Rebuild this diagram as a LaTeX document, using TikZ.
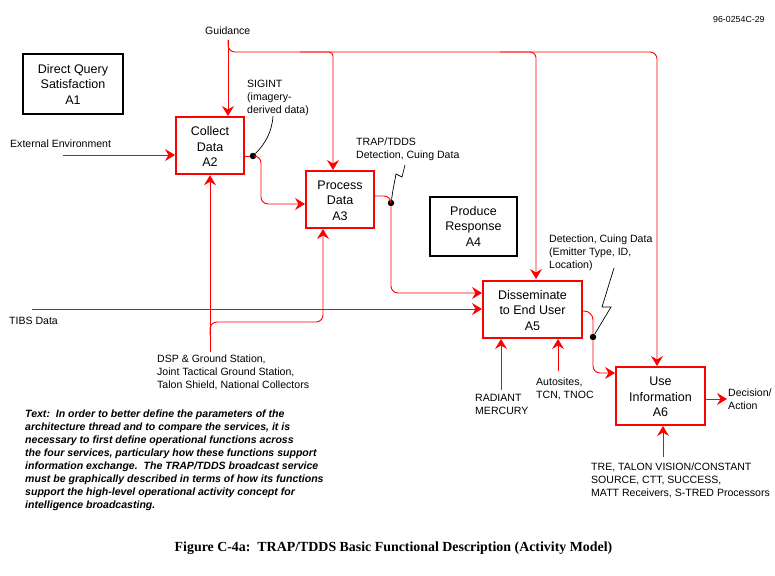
\documentclass[tikz,border=0pt]{standalone}
\usepackage{fontspec}
\setmainfont{Liberation Sans}
\newfontfamily\capfont{Liberation Serif}
\usetikzlibrary{arrows.meta}
\tikzset{
  x=1pt,y=-1pt,
  rbox/.style={draw=red,line width=2pt,minimum width=#1,minimum height=57.5pt,inner sep=0pt,align=center,font=\fontsize{12.5}{15.5}\selectfont,text=black},
  kbox/.style={draw=black,line width=2pt,minimum width=#1,minimum height=59pt,inner sep=0pt,align=center,font=\fontsize{12.5}{15.5}\selectfont,text=black},
  flow/.style={draw=red,line width=0.9pt,rounded corners=7pt,-{Stealth[length=10pt,width=12pt,inset=3.5pt]}},
  plainflow/.style={draw=red,line width=0.9pt,rounded corners=7pt},
  lbl/.style={inner sep=0pt,anchor=north west,align=left,font=\fontsize{10.55}{13}\selectfont,text=black},
  jolt/.style={draw=black,line width=0.7pt},
  dot/.style={circle,fill=black,inner sep=0pt,minimum size=6.5pt},
}
\begin{document}
\begin{tikzpicture}
\useasboundingbox (0,0) rectangle (775,575);
\node[kbox=100pt] (a1) at (73,84) {Direct Query\\Satisfaction\\A1};
\node[rbox=68pt] (a2) at (210,145.5) {\rule{0pt}{11pt}Collect\\Data\\A2};
\node[rbox=68pt] (a3) at (340,199.5) {\rule{0pt}{11pt}Process\\Data\\A3};
\node[kbox=87pt] (a4) at (473.5,226) {Produce\\Response\\A4};
\node[rbox=99pt] (a5) at (532.5,309.5) {\rule{0pt}{11pt}Disseminate\\to End User\\A5};
\node[rbox=89pt] (a6) at (660.5,396) {\rule{0pt}{11pt}Use\\Information\\A6};

\node[lbl,font=\fontsize{8.8}{10}\selectfont] (code) at (713,16) {96-0254C-29};
\node[lbl] (guid) at (205,26.5) {Guidance};
\node[lbl] (ext) at (10,139.5) {External Environment};
\node[lbl] (tibs) at (9,316.5) {TIBS Data};
\node[lbl] (sig) at (247,79.5) {SIGINT\\(imagery-\\derived data)};
\node[lbl] (trap) at (356,138) {TRAP/TDDS\\Detection, Cuing Data};
\node[lbl] (det) at (549,234.5) {Detection, Cuing Data\\(Emitter Type, ID,\\Location)};
\node[lbl] (dsp) at (157,355) {DSP \& Ground Station,\\Joint Tactical Ground Station,\\Talon Shield, National Collectors};
\node[lbl] (rad) at (475,394.5) {RADIANT\\MERCURY};
\node[lbl] (auto) at (536,377.5) {Autosites,\\TCN, TNOC};
\node[lbl] (dec) at (728,388.5) {Decision/\\Action};
\node[lbl] (tre) at (591,463) {TRE, TALON VISION/CONSTANT\\SOURCE, CTT, SUCCESS,\\MATT Receivers, S-TRED Processors};
\node[lbl,font=\fontsize{10.55}{12.9}\selectfont\bfseries\itshape] (para) at (25,410) {Text:~~In order to better define the parameters of the\\architecture thread and to compare the services, it is\\necessary to first define operational functions across\\the four services, particulary how these functions support\\information exchange.~~The TRAP/TDDS broadcast service\\must be graphically described in terms of how its functions\\support the high-level operational activity concept for\\intelligence broadcasting.};
\node[inner sep=0pt,font=\capfont\bfseries\fontsize{13.9}{16}\selectfont] (cap) at (393.5,548.5) {Figure C-4a:~~TRAP/TDDS Basic Functional Description (Activity Model)};

\coordinate (gtop) at (228,40);
\coordinate (gend) at (657,52);
\coordinate (extstart) at (63,155);
\coordinate (tibsstart) at (32,309);
\coordinate (dspstart) at (210,352);
\coordinate (autoS) at (558,371);
\coordinate (radS) at (501,390);
\coordinate (treS) at (663,457);
\coordinate (decE) at (727,399);

\draw[flow] (gtop) -- (228,116);
\draw[flow] (gtop) -- (228,52) -- (gend) -- (657,366);
\draw[flow,rounded corners=4pt] (300,52) -- (333,52) -- (333,170);
\draw[flow,rounded corners=6pt] (500,52) -- (536,52) -- (536,279);
\draw[flow] (extstart) -- (a2.west |- extstart);
\draw[flow] (tibsstart) -- (a5.west |- tibsstart);
\draw[flow] (dspstart) -- (a2.south);
\draw[flow] (210,335) -- (210,322) -- (323,322) -- (323,229);

\node[dot] (d2) at (253,156) {};
\node[dot] (d3) at (391,203) {};
\node[dot] (d5) at (593,337) {};

\draw[plainflow] (a2.east |- d2) -- (d2);
\draw[flow] (d2) -- (261,156) -- (261,204) -- (a3.west |- 0,204);
\draw[plainflow] (a3.east |- 0,196) -- (391,196) -- (d3);
\draw[flow] (d3) -- (391,293) -- (a5.west |- 0,293);
\draw[plainflow,rounded corners=9pt] (a5.east |- 0,311) -- (593,311) -- (d5);
\draw[flow] (d5) -- (593,373) -- (a6.west |- 0,373);
\draw[flow] (radS) -- (501,339);
\draw[flow] (autoS) -- (558,339);
\draw[flow] (treS) -- (663,426);
\draw[flow] (a6.east |- decE) -- (decE);

\draw[jolt] (273,116) .. controls (272,132) and (265,144) .. (d2);
\draw[jolt] (405,165) -- (402,177) -- (396,174) -- (393,190) -- (d3);
\draw[jolt] (614,268) -- (602,307) -- (611,307) -- (d5);
\end{tikzpicture}
\end{document}
